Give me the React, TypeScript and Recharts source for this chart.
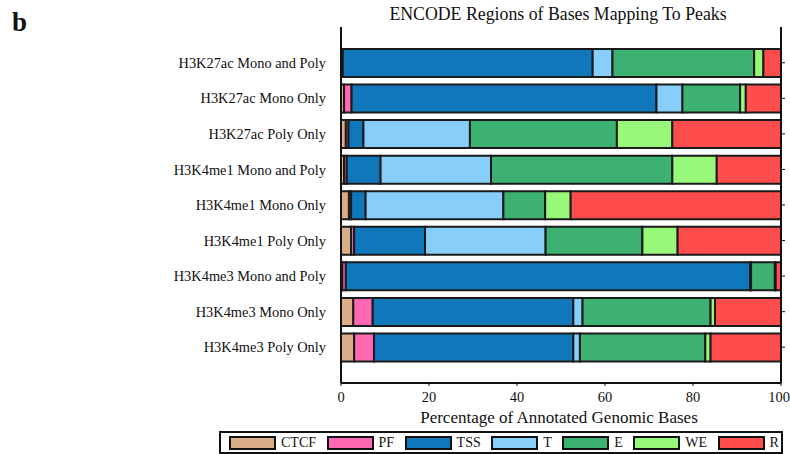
import React from "react";
import { BarChart, Bar, XAxis, YAxis } from "recharts";

const categories = [
  "H3K27ac Mono and Poly",
  "H3K27ac Mono Only",
  "H3K27ac Poly Only",
  "H3K4me1 Mono and Poly",
  "H3K4me1 Mono Only",
  "H3K4me1 Poly Only",
  "H3K4me3 Mono and Poly",
  "H3K4me3 Mono Only",
  "H3K4me3 Poly Only",
];

const ctcf = [0.2, 0.7, 1.1, 0.7, 1.8, 2.3, 0.3, 2.8, 3.0];
const pf = [0.2, 1.7, 0.6, 0.6, 0.5, 0.7, 0.8, 4.4, 4.5];
const tss = [56.8, 69.3, 3.4, 7.7, 3.3, 16.1, 91.9, 45.6, 45.3];
const t = [4.5, 5.9, 24.2, 25.1, 31.3, 27.4, 0.2, 2.1, 1.5];
const e = [32.2, 13.1, 33.4, 41.2, 9.5, 22.0, 5.4, 29.1, 28.5];
const we = [2.1, 1.3, 12.6, 10.1, 5.8, 8.0, 0.2, 1.0, 1.2];
const r = [4.0, 8.0, 24.7, 14.6, 47.8, 23.5, 1.2, 15.0, 16.0];

const xTicks = [0, 20, 40, 60, 80, 100];

const SERIES = [
  { key: "CTCF", values: ctcf, color: "#d8ad88" },
  { key: "PF", values: pf, color: "#ff69b4" },
  { key: "TSS", values: tss, color: "#1177bb" },
  { key: "T", values: t, color: "#87cefa" },
  { key: "E", values: e, color: "#3cb171" },
  { key: "WE", values: we, color: "#98f87a" },
  { key: "R", values: r, color: "#ff4c4c" },
];

const data = categories.map((name, i) => {
  const row: Record<string, string | number> = { name };
  SERIES.forEach((s) => {
    row[s.key] = s.values[i];
  });
  return row;
});

const FONT = "Liberation Serif, Times New Roman, Times, DejaVu Serif, serif";
const frame = { stroke: "#111", strokeWidth: 2 };
const smallTick = { stroke: "#111", strokeWidth: 1 };

export default function App() {
  return (
    <div
      style={{
        position: "absolute",
        left: 0,
        top: 0,
        width: 790,
        height: 454,
        background: "#fff",
        fontFamily: FONT,
        color: "#111",
      }}
    >
      <div
        style={{
          position: "absolute",
          left: 12,
          top: 7,
          fontSize: 27,
          fontWeight: "bold",
        }}
      >
        b
      </div>
      <div
        style={{
          position: "absolute",
          left: 338,
          width: 440,
          top: 4,
          textAlign: "center",
          fontSize: 17.8,
          whiteSpace: "nowrap",
        }}
      >
        ENCODE Regions of Bases Mapping To Peaks
      </div>
      <div
        style={{
          position: "absolute",
          left: 339,
          width: 440,
          top: 408,
          textAlign: "center",
          fontSize: 17,
          whiteSpace: "nowrap",
        }}
      >
        Percentage of Annotated Genomic Bases
      </div>
      <BarChart
        width={790}
        height={454}
        data={data}
        layout="vertical"
        margin={{ top: 27, right: 0, bottom: 41, left: 0 }}
        barSize={28}
      >
        <XAxis
          type="number"
          domain={[0, 100]}
          ticks={xTicks}
          height={30}
          axisLine={frame}
          tickLine={smallTick}
          tickSize={3}
          tickMargin={6}
          tick={{ fill: "#111", fontSize: 14.5, fontFamily: FONT }}
        />
        <XAxis
          xAxisId="top"
          orientation="top"
          type="number"
          domain={[0, 100]}
          ticks={xTicks}
          height={0}
          axisLine={frame}
          tickLine={smallTick}
          tickSize={3}
          tickFormatter={() => ""}
        />
        <YAxis
          type="category"
          dataKey="name"
          width={341}
          axisLine={frame}
          tickLine={false}
          tickSize={6}
          tickMargin={9}
          padding={{ top: 18, bottom: 18 }}
          tick={{ fill: "#111", fontSize: 14.4, fontFamily: FONT }}
        />
        <YAxis
          yAxisId="right"
          orientation="right"
          type="category"
          dataKey="name"
          width={9}
          axisLine={frame}
          tickSize={4}
          tickLine={smallTick}
          tickFormatter={() => ""}
          padding={{ top: 18, bottom: 18 }}
        />
        {SERIES.map((s) => (
          <Bar
            key={s.key}
            dataKey={s.key}
            stackId="a"
            fill={s.color}
            stroke="#1a1a1a"
            strokeWidth={2}
            isAnimationActive={false}
          />
        ))}
      </BarChart>
      <div
        style={{
          position: "absolute",
          left: 219,
          top: 431,
          width: 564,
          height: 23,
          display: "flex",
          alignItems: "center",
          border: "2px solid #111",
          boxSizing: "border-box",
          paddingLeft: 8,
          fontSize: 14,
          whiteSpace: "nowrap",
        }}
      >
        {SERIES.map((s) => (
          <div
            key={s.key}
            style={{ display: "flex", alignItems: "center", marginRight: 10.5 }}
          >
            <div
              style={{
                width: 47,
                height: 14,
                background: s.color,
                border: "2px solid #111",
                boxSizing: "border-box",
                marginRight: 5,
              }}
            />
            <span>{s.key}</span>
          </div>
        ))}
      </div>
    </div>
  );
}
